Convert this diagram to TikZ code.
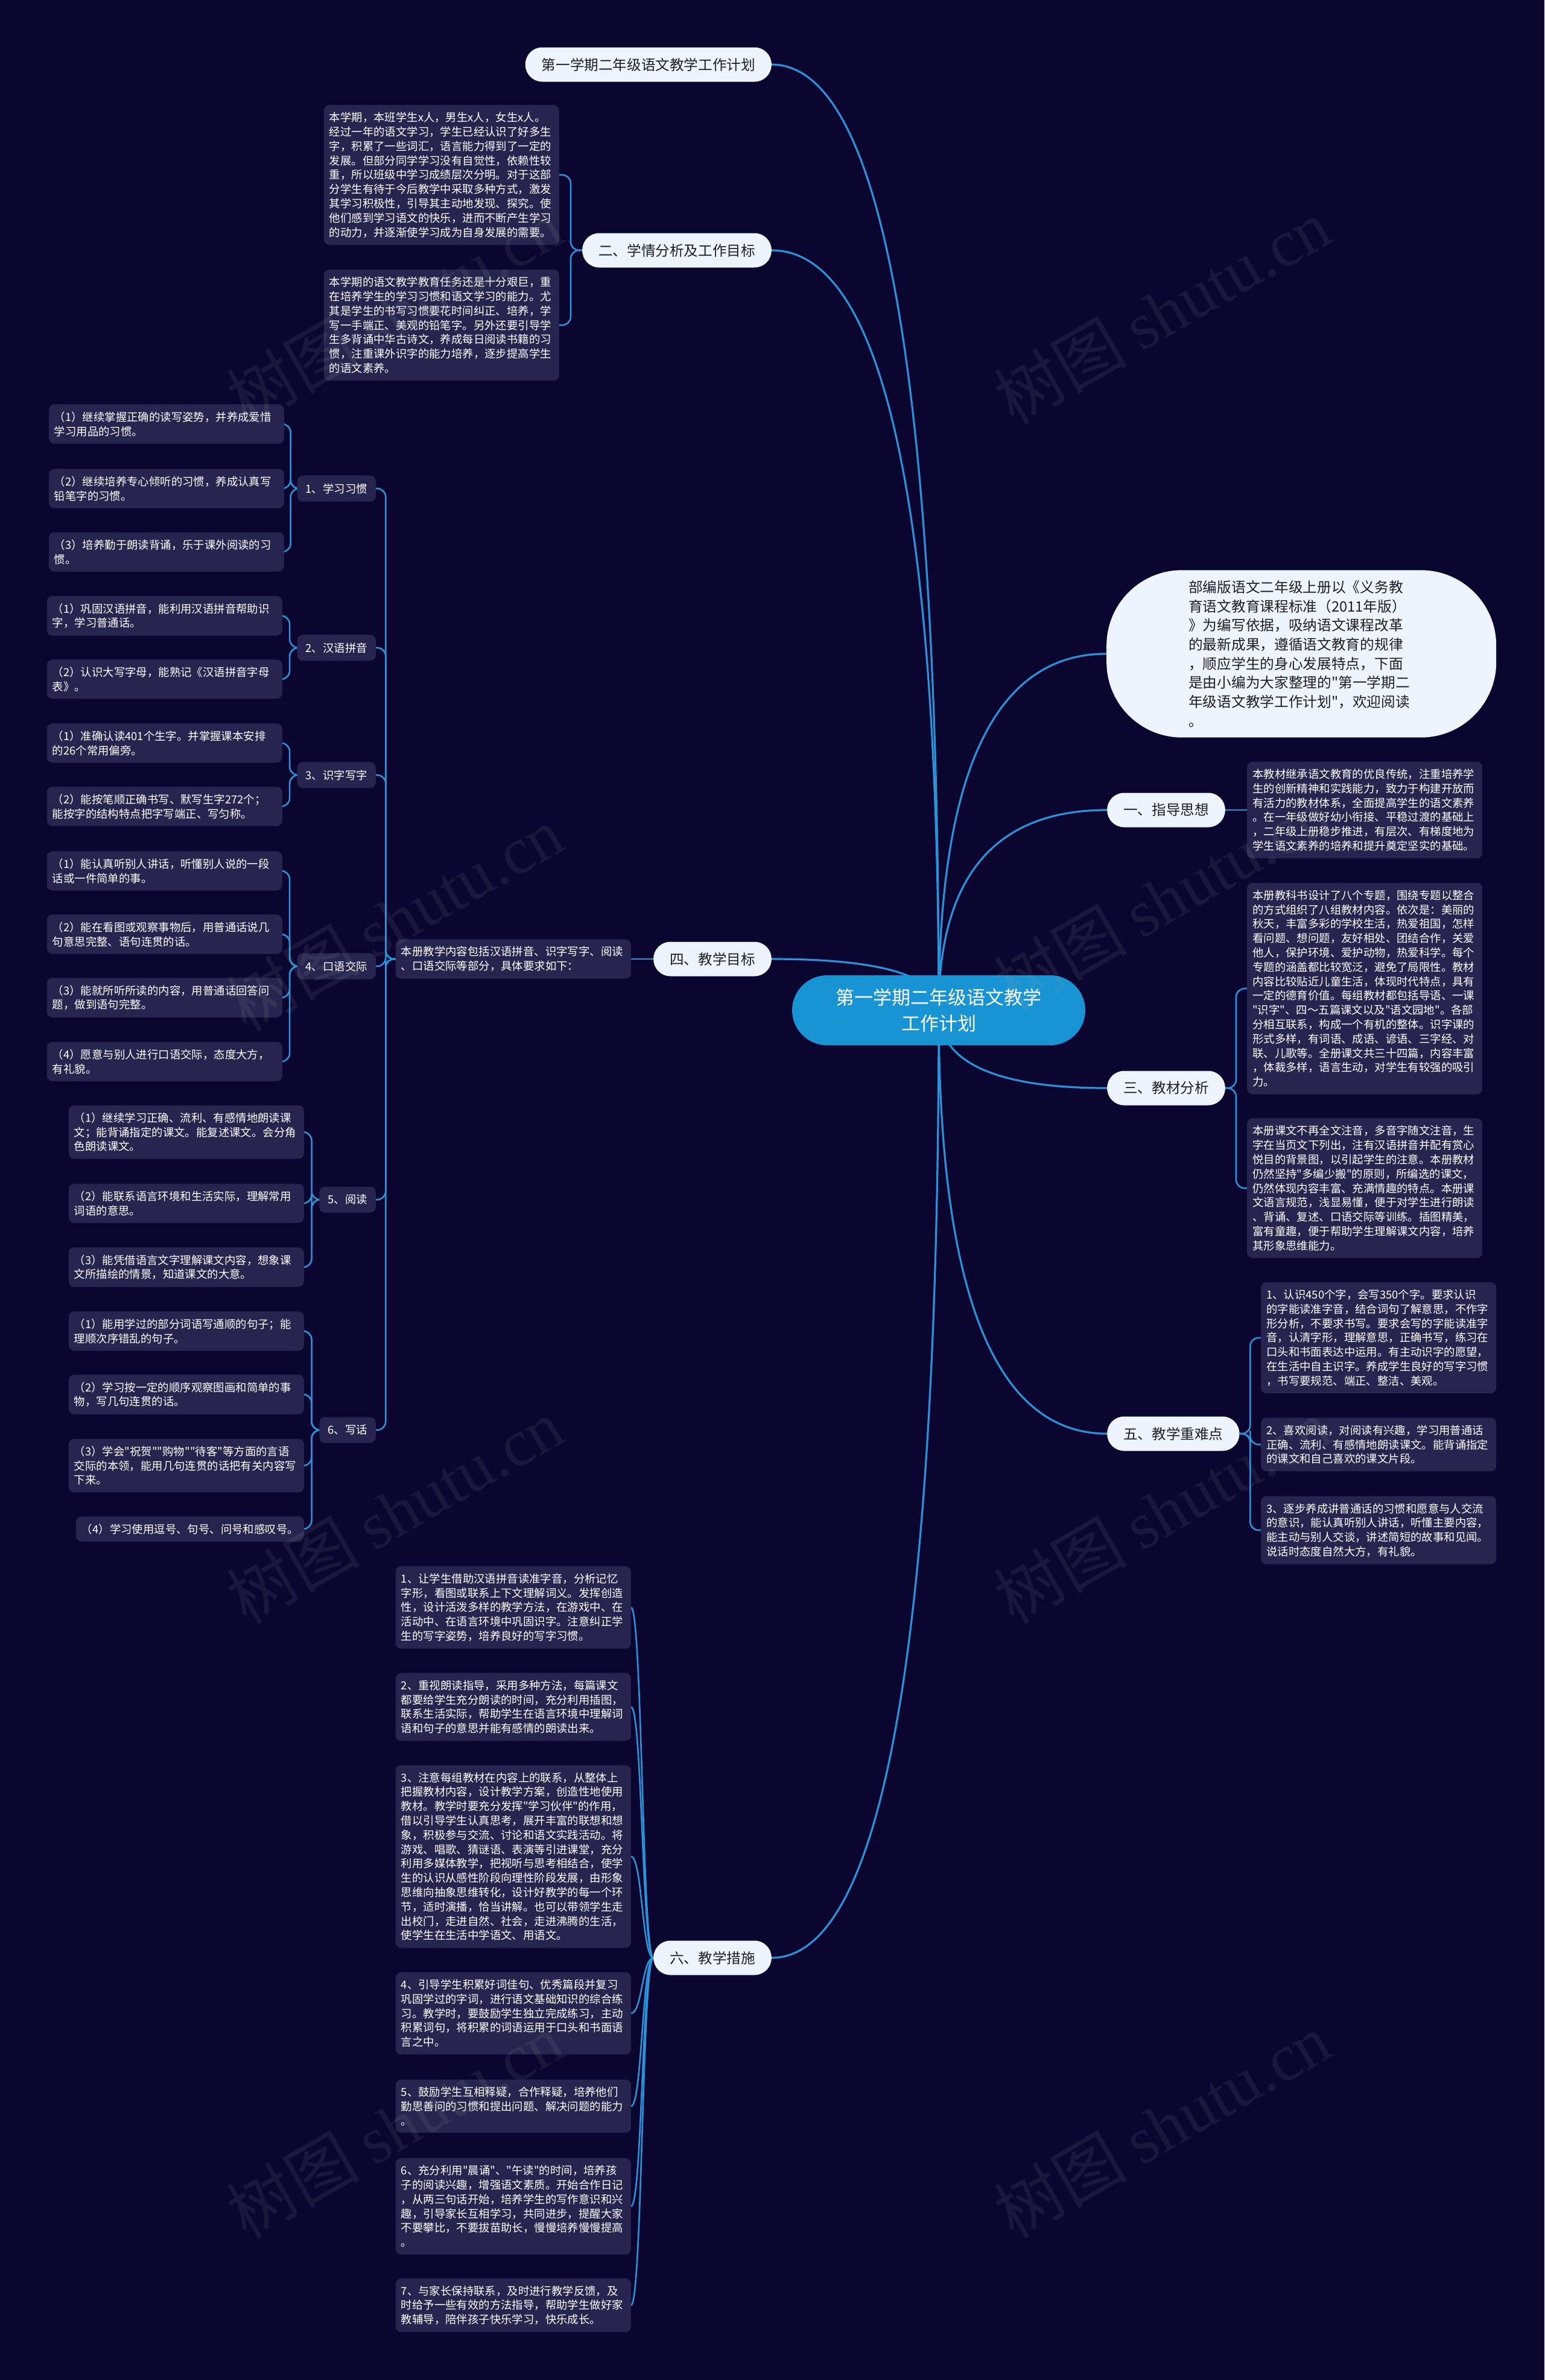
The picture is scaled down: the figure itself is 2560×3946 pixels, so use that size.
\documentclass[tikz,border=0pt]{standalone}
\usepackage{fontspec}
\newfontfamily\cjk{Noto Sans CJK SC}
\newfontfamily\wmfont{Liberation Serif}
\usetikzlibrary{calc}
\definecolor{bgc}{HTML}{0A0630}
\definecolor{boxc}{HTML}{27254F}
\definecolor{linec}{HTML}{2B92D8}
\definecolor{ctrc}{HTML}{1893D3}
\definecolor{lightc}{HTML}{EEF4FD}
\definecolor{darkc}{HTML}{1E1E24}
\pgfdeclarelayer{bgl}
\pgfdeclarelayer{lines}
\pgfdeclarelayer{wm}
\pgfsetlayers{bgl,lines,main,wm}
\tikzset{
  ctrnode/.style={fill=ctrc, text=white, rounded corners=58pt, minimum width=486pt, minimum height=116pt, align=center, inner sep=0pt, font=\cjk\fontsize{31}{42.4}\selectfont},
  lvl/.style={fill=lightc, text=darkc, rounded corners=28pt, minimum height=57pt, inner xsep=27pt, inner ysep=0pt, font=\cjk\fontsize{23.6}{28}\selectfont},
  bubble/.style={fill=lightc, text=darkc, rounded corners=125pt, text width=374pt, align=left, inner xsep=136pt, inner ysep=17pt, font=\cjk\fontsize{23.7}{31.7}\selectfont},
  txt/.style={fill=boxc, text=white, rounded corners=9pt, text width=372pt, align=left, inner xsep=9pt, inner ysep=12pt, font=\cjk\fontsize{18.4}{23.8}\selectfont},
  txtone/.style={fill=boxc, text=white, rounded corners=9pt, align=left, inner xsep=9pt, inner ysep=12pt, font=\cjk\fontsize{18.4}{23.8}\selectfont},
  sub/.style={fill=boxc, text=white, rounded corners=9pt, inner xsep=14pt, inner ysep=13pt, font=\cjk\fontsize{18.4}{23.8}\selectfont},
  mainline/.style={draw=linec, line width=3.2pt},
  subline/.style={draw=linec, line width=2.6pt},
  wmark/.style={text=gray!70, opacity=0.11, rotate=30, font=\cjk\fontsize{110}{120}\selectfont},
}
\newcommand{\mainlink}[2]{%
  \coordinate (#2) at (ctr.center |- #1);
  \draw[mainline] (ctr.center) .. controls ($(ctr.center)!0.6667!(#2)$) and ($(#1)!0.6667!(#2)$) .. (#1);}
\newcommand{\brk}[3]{%
  \path (#1) -- coordinate[pos=0.5] (#3) (#2);
  \draw[subline, rounded corners=14pt] (#1) -| (#3) |- (#2);}
\newcommand{\scurve}[3]{%
  \path (#1) -- coordinate[pos=0.5] (#3) (#2);
  \draw[subline] (#1) .. controls (#3 |- #1) and (#3 |- #2) .. (#2);}
\begin{document}
\begin{tikzpicture}[x=1pt,y=-1pt]
\begin{pgfonlayer}{bgl}
\fill[bgc] (0,0) rectangle (2560,3946);
\end{pgfonlayer}
\useasboundingbox (0,0) rectangle (2560,3946);

% centre
\node[ctrnode] (ctr) at (1556,1675) {第一学期二年级语文教学\\工作计划};

% level 1
\node[lvl, anchor=east] (T0) at (1279,107) {第一学期二年级语文教学工作计划};
\node[lvl, anchor=east] (N2) at (1279,415) {二、学情分析及工作目标};
\node[lvl, anchor=east] (N4) at (1279,1590) {四、教学目标};
\node[lvl, anchor=east] (N6) at (1279,3246) {六、教学措施};
\node[lvl, anchor=west] (N1) at (1835,1343) {一、指导思想};
\node[lvl, anchor=west] (N3) at (1835,1804) {三、教材分析};
\node[lvl, anchor=west] (N5) at (1835,2377) {五、教学重难点};
\node[bubble, anchor=west] (B) at (1834,1084) {部编版语文二年级上册以《义务教\\育语文教育课程标准（2011年版）\\》为编写依据，吸纳语文课程改革\\的最新成果，遵循语文教育的规律\\，顺应学生的身心发展特点，下面\\是由小编为大家整理的"第一学期二\\年级语文教学工作计划"，欢迎阅读\\。};

% 二
\node[txt, anchor=east] (t2a) at (927,290) {本学期，本班学生x人，男生x人，女生x人。\\经过一年的语文学习，学生已经认识了好多生\\字，积累了一些词汇，语言能力得到了一定的\\发展。但部分同学学习没有自觉性，依赖性较\\重，所以班级中学习成绩层次分明。对于这部\\分学生有待于今后教学中采取多种方式，激发\\其学习积极性，引导其主动地发现、探究。使\\他们感到学习语文的快乐，进而不断产生学习\\的动力，并逐渐使学习成为自身发展的需要。};
\node[txt, anchor=east] (t2b) at (927,539) {本学期的语文教学教育任务还是十分艰巨，重\\在培养学生的学习习惯和语文学习的能力。尤\\其是学生的书写习惯要花时间纠正、培养，学\\写一手端正、美观的铅笔字。另外还要引导学\\生多背诵中华古诗文，养成每日阅读书籍的习\\惯，注重课外识字的能力培养，逐步提高学生\\的语文素养。};

% 四
\node[txt, anchor=east] (t4) at (1046,1590) {本册教学内容包括汉语拼音、识字写字、阅读\\、口语交际等部分，具体要求如下：};
\node[sub, anchor=east] (S1) at (623,810) {1、学习习惯};
\node[sub, anchor=east] (S2) at (623,1074) {2、汉语拼音};
\node[sub, anchor=east] (S3) at (623,1285) {3、识字写字};
\node[sub, anchor=east] (S4) at (623,1602) {4、口语交际};
\node[sub, anchor=east] (S5) at (623,1989) {5、阅读};
\node[sub, anchor=east] (S6) at (623,2371) {6、写话};

\node[txt, anchor=east] (L11) at (471,703) {（1）继续掌握正确的读写姿势，并养成爱惜\\学习用品的习惯。};
\node[txt, anchor=east] (L12) at (471,810) {（2）继续培养专心倾听的习惯，养成认真写\\铅笔字的习惯。};
\node[txt, anchor=east] (L13) at (471,915) {（3）培养勤于朗读背诵，乐于课外阅读的习\\惯。};
\node[txt, anchor=east] (L21) at (468,1021) {（1）巩固汉语拼音，能利用汉语拼音帮助识\\字，学习普通话。};
\node[txt, anchor=east] (L22) at (468,1126) {（2）认识大写字母，能熟记《汉语拼音字母\\表》。};
\node[txt, anchor=east] (L31) at (468,1232) {（1）准确认读401个生字。并掌握课本安排\\的26个常用偏旁。};
\node[txt, anchor=east] (L32) at (468,1337) {（2）能按笔顺正确书写、默写生字272个；\\能按字的结构特点把字写端正、写匀称。};
\node[txt, anchor=east] (L41) at (468,1444) {（1）能认真听别人讲话，听懂别人说的一段\\话或一件简单的事。};
\node[txt, anchor=east] (L42) at (468,1549) {（2）能在看图或观察事物后，用普通话说几\\句意思完整、语句连贯的话。};
\node[txt, anchor=east] (L43) at (468,1654) {（3）能就所听所读的内容，用普通话回答问\\题，做到语句完整。};
\node[txt, anchor=east] (L44) at (468,1760) {（4）愿意与别人进行口语交际，态度大方，\\有礼貌。};
\node[txt, anchor=east] (L51) at (504,1877) {（1）继续学习正确、流利、有感情地朗读课\\文；能背诵指定的课文。能复述课文。会分角\\色朗读课文。};
\node[txt, anchor=east] (L52) at (504,1995) {（2）能联系语言环境和生活实际，理解常用\\词语的意思。};
\node[txt, anchor=east] (L53) at (504,2101) {（3）能凭借语言文字理解课文内容，想象课\\文所描绘的情景，知道课文的大意。};
\node[txt, anchor=east] (L61) at (504,2207) {（1）能用学过的部分词语写通顺的句子；能\\理顺次序错乱的句子。};
\node[txt, anchor=east] (L62) at (504,2312) {（2）学习按一定的顺序观察图画和简单的事\\物，写几句连贯的话。};
\node[txt, anchor=east] (L63) at (504,2430) {（3）学会"祝贺""购物""待客"等方面的言语\\交际的本领，能用几句连贯的话把有关内容写\\下来。};
\node[txtone, anchor=east] (L64) at (504,2535) {（4）学习使用逗号、句号、问号和感叹号。};

% 六
\node[txt, anchor=east] (m1) at (1046,2665) {1、让学生借助汉语拼音读准字音，分析记忆\\字形，看图或联系上下文理解词义。发挥创造\\性，设计活泼多样的教学方法，在游戏中、在\\活动中、在语言环境中巩固识字。注意纠正学\\生的写字姿势，培养良好的写字习惯。};
\node[txt, anchor=east] (m2) at (1046,2830) {2、重视朗读指导，采用多种方法，每篇课文\\都要给学生充分朗读的时间，充分利用插图，\\联系生活实际，帮助学生在语言环境中理解词\\语和句子的意思并能有感情的朗读出来。};
\node[txt, anchor=east] (m3) at (1046,3078) {3、注意每组教材在内容上的联系，从整体上\\把握教材内容，设计教学方案，创造性地使用\\教材。教学时要充分发挥"学习伙伴"的作用，\\借以引导学生认真思考，展开丰富的联想和想\\象，积极参与交流、讨论和语文实践活动。将\\游戏、唱歌、猜谜语、表演等引进课堂，充分\\利用多媒体教学，把视听与思考相结合，使学\\生的认识从感性阶段向理性阶段发展，由形象\\思维向抽象思维转化，设计好教学的每一个环\\节，适时演播，恰当讲解。也可以带领学生走\\出校门，走进自然、社会，走进沸腾的生活，\\使学生在生活中学语文、用语文。};
\node[txt, anchor=east] (m4) at (1046,3338) {4、引导学生积累好词佳句、优秀篇段并复习\\巩固学过的字词，进行语文基础知识的综合练\\习。教学时，要鼓励学生独立完成练习，主动\\积累词句，将积累的词语运用于口头和书面语\\言之中。};
\node[txt, anchor=east] (m5) at (1046,3492) {5、鼓励学生互相释疑，合作释疑，培养他们\\勤思善问的习惯和提出问题、解决问题的能力\\。};
\node[txt, anchor=east] (m6) at (1046,3658) {6、充分利用"晨诵"、"午读"的时间，培养孩\\子的阅读兴趣，增强语文素质。开始合作日记\\，从两三句话开始，培养学生的写作意识和兴\\趣，引导家长互相学习，共同进步，提醒大家\\不要攀比，不要拔苗助长，慢慢培养慢慢提高\\。};
\node[txt, anchor=east] (m7) at (1046,3822) {7、与家长保持联系，及时进行教学反馈，及\\时给予一些有效的方法指导，帮助学生做好家\\教辅导，陪伴孩子快乐学习，快乐成长。};

% right side texts
\node[txt, anchor=west] (t1) at (2067,1343) {本教材继承语文教育的优良传统，注重培养学\\生的创新精神和实践能力，致力于构建开放而\\有活力的教材体系，全面提高学生的语文素养\\。在一年级做好幼小衔接、平稳过渡的基础上\\，二年级上册稳步推进，有层次、有梯度地为\\学生语文素养的培养和提升奠定坚实的基础。};
\node[txt, anchor=west] (t3a) at (2067,1639) {本册教科书设计了八个专题，围绕专题以整合\\的方式组织了八组教材内容。依次是：美丽的\\秋天，丰富多彩的学校生活，热爱祖国，怎样\\看问题、想问题，友好相处、团结合作，关爱\\他人，保护环境、爱护动物，热爱科学。每个\\专题的涵盖都比较宽泛，避免了局限性。教材\\内容比较贴近儿童生活，体现时代特点，具有\\一定的德育价值。每组教材都包括导语、一课\\"识字"、四～五篇课文以及"语文园地"。各部\\分相互联系，构成一个有机的整体。识字课的\\形式多样，有词语、成语、谚语、三字经、对\\联、儿歌等。全册课文共三十四篇，内容丰富\\，体裁多样，语言生动，对学生有较强的吸引\\力。};
\node[txt, anchor=west] (t3b) at (2067,1970) {本册课文不再全文注音，多音字随文注音，生\\字在当页文下列出，注有汉语拼音并配有赏心\\悦目的背景图，以引起学生的注意。本册教材\\仍然坚持"多编少搬"的原则，所编选的课文，\\仍然体现内容丰富、充满情趣的特点。本册课\\文语言规范，浅显易懂，便于对学生进行朗读\\、背诵、复述、口语交际等训练。插图精美，\\富有童趣，便于帮助学生理解课文内容，培养\\其形象思维能力。};
\node[txt, anchor=west] (t5a) at (2090,2218) {1、认识450个字，会写350个字。要求认识\\的字能读准字音，结合词句了解意思，不作字\\形分析，不要求书写。要求会写的字能读准字\\音，认清字形，理解意思，正确书写，练习在\\口头和书面表达中运用。有主动识字的愿望，\\在生活中自主识字。养成学生良好的写字习惯\\，书写要规范、端正、整洁、美观。};
\node[txt, anchor=west] (t5b) at (2090,2395) {2、喜欢阅读，对阅读有兴趣，学习用普通话\\正确、流利、有感情地朗读课文。能背诵指定\\的课文和自己喜欢的课文片段。};
\node[txt, anchor=west] (t5c) at (2090,2537) {3、逐步养成讲普通话的习惯和愿意与人交流\\的意识，能认真听别人讲话，听懂主要内容，\\能主动与别人交谈，讲述简短的故事和见闻。\\说话时态度自然大方，有礼貌。};

% connectors
\begin{pgfonlayer}{lines}
\mainlink{T0.east}{k0}
\mainlink{N2.east}{k2}
\mainlink{N4.east}{k4}
\mainlink{N6.east}{k6}
\mainlink{B.west}{kb}
\mainlink{N1.west}{k1}
\mainlink{N3.west}{k3}
\mainlink{N5.west}{k5}

\brk{N2.west}{t2a.east}{q1}
\brk{N2.west}{t2b.east}{q2}
\draw[subline] (N4.west) -- (t4.east);
\draw[subline] (N1.east) -- (t1.west);
\brk{t4.west}{S1.east}{q3}
\brk{t4.west}{S2.east}{q4}
\brk{t4.west}{S3.east}{q5}
\brk{t4.west}{S4.east}{q6}
\brk{t4.west}{S5.east}{q7}
\brk{t4.west}{S6.east}{q8}
\brk{S1.west}{L11.east}{r1}
\brk{S1.west}{L12.east}{r2}
\brk{S1.west}{L13.east}{r3}
\brk{S2.west}{L21.east}{r4}
\brk{S2.west}{L22.east}{r5}
\brk{S3.west}{L31.east}{r6}
\brk{S3.west}{L32.east}{r7}
\brk{S4.west}{L41.east}{r8}
\brk{S4.west}{L42.east}{r9}
\brk{S4.west}{L43.east}{r10}
\brk{S4.west}{L44.east}{r11}
\brk{S5.west}{L51.east}{r12}
\brk{S5.west}{L52.east}{r13}
\brk{S5.west}{L53.east}{r14}
\brk{S6.west}{L61.east}{r15}
\brk{S6.west}{L62.east}{r16}
\brk{S6.west}{L63.east}{r17}
\brk{S6.west}{L64.east}{r18}
\brk{N3.east}{t3a.west}{p1}
\brk{N3.east}{t3b.west}{p2}
\brk{N5.east}{t5a.west}{p3}
\brk{N5.east}{t5b.west}{p4}
\brk{N5.east}{t5c.west}{p5}
\scurve{N6.west}{m1.east}{s1}
\scurve{N6.west}{m2.east}{s2}
\scurve{N6.west}{m3.east}{s3}
\scurve{N6.west}{m4.east}{s4}
\scurve{N6.west}{m5.east}{s5}
\scurve{N6.west}{m6.east}{s6}
\scurve{N6.west}{m7.east}{s7}
\end{pgfonlayer}

% watermarks
\begin{pgfonlayer}{wm}
\foreach \wx/\wy [count=\wi] in {654/516, 1926/516, 654/1523, 1926/1490, 654/2505, 1926/2505, 654/3524, 1926/3524}
  \node[wmark] (wm\wi) at (\wx,\wy) {树图 {\wmfont shutu.cn}};
\end{pgfonlayer}
\end{tikzpicture}
\end{document}
